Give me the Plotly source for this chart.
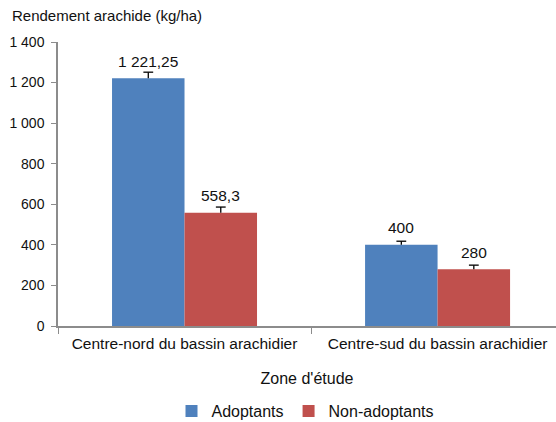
import plotly.graph_objects as go

zones = ["Centre-nord du bassin arachidier", "Centre-sud du bassin arachidier"]
adoptants = [1221.25, 400]
non_adoptants = [558.3, 280]
err_adoptants = [30, 18]
err_non_adoptants = [28, 20]
series_names = ["Adoptants", "Non-adoptants"]
colors = ["#4F81BD", "#C0504D"]
y_ticks = [0, 200, 400, 600, 800, 1000, 1200, 1400]

W, H = 556, 422
ML, MR, MT, MB = 58, 0, 42, 96
FONT = "Liberation Sans, Arial, sans-serif"
BARGAP = 0.427
HALF = (1 - BARGAP) / 4  # centre offset of each bar within its group


def fr(v):
    # French number format: space thousands separator, comma decimal
    if float(v).is_integer():
        return f"{int(v):,}".replace(",", " ")
    return f"{v:,.2f}".rstrip("0").replace(",", " ").replace(".", ",")


fig = go.Figure()
series = [(adoptants, err_adoptants), (non_adoptants, err_non_adoptants)]
for k, (vals, errs) in enumerate(series):
    fig.add_trace(go.Bar(
        x=zones, y=vals, name=series_names[k], marker_color=colors[k],
        marker_line_width=0,
        error_y=dict(type="data", array=errs, symmetric=False,
                     arrayminus=[0] * len(errs), color="black",
                     thickness=1.3, width=0),
    ))

# caps on the upper end of each error bar, on a numeric overlay axis
for k, (vals, errs) in enumerate(series):
    off = -HALF if k == 0 else HALF
    fig.add_trace(go.Scatter(
        x=[i + off for i in range(len(vals))],
        y=[v + e for v, e in zip(vals, errs)],
        xaxis="x2", mode="markers", showlegend=False, hoverinfo="skip",
        marker=dict(symbol="line-ew", size=7,
                    line=dict(color="black", width=1.3)),
    ))
    # value labels above each bar
    for i, v in enumerate(vals):
        fig.add_annotation(x=i + off, y=v, text=fr(v), showarrow=False,
                           yshift=17, font=dict(size=15.5, color="#111"),
                           xref="x2", yref="y")

fig.add_annotation(x=-(ML - 10) / (W - ML - MR), y=1 + (MT - 15) / (H - MT - MB),
                   xref="paper", yref="paper", xanchor="left", yanchor="middle",
                   text="Rendement arachide (kg/ha)", showarrow=False,
                   font=dict(size=15, color="#111"))

XR = [-0.5, 1.468]
fig.update_layout(
    width=W, height=H,
    margin=dict(l=ML, r=MR, t=MT, b=MB, autoexpand=False),
    paper_bgcolor="white", plot_bgcolor="white",
    font=dict(family=FONT, size=14, color="#111"),
    barmode="group", bargap=BARGAP, bargroupgap=0,
    showlegend=True,
    legend=dict(orientation="h", x=0.497, xanchor="center",
                y=-(411 - 326) / 284, yanchor="middle", font=dict(size=16),
                itemwidth=30, traceorder="normal"),
    xaxis=dict(range=XR, showline=True, linecolor="#8c8c8c",
               linewidth=1.5, ticks="outside", tickson="boundaries",
               ticklen=6, tickcolor="#8c8c8c", showgrid=False,
               tickfont=dict(size=15.5), ticklabelstandoff=3,
               automargin=False,
               title=dict(text="Zone d'étude", standoff=21,
                          font=dict(size=16))),
    xaxis2=dict(range=XR, overlaying="x", visible=False),
    yaxis=dict(range=[0, 1400], tickvals=y_ticks,
               ticktext=[fr(t) for t in y_ticks], showline=True,
               linecolor="#8c8c8c", linewidth=1.5, ticks="outside",
               ticklen=5, tickcolor="#8c8c8c", showgrid=False,
               zeroline=False, ticklabelstandoff=4, automargin=False),
)

fig.write_html("out.html")
